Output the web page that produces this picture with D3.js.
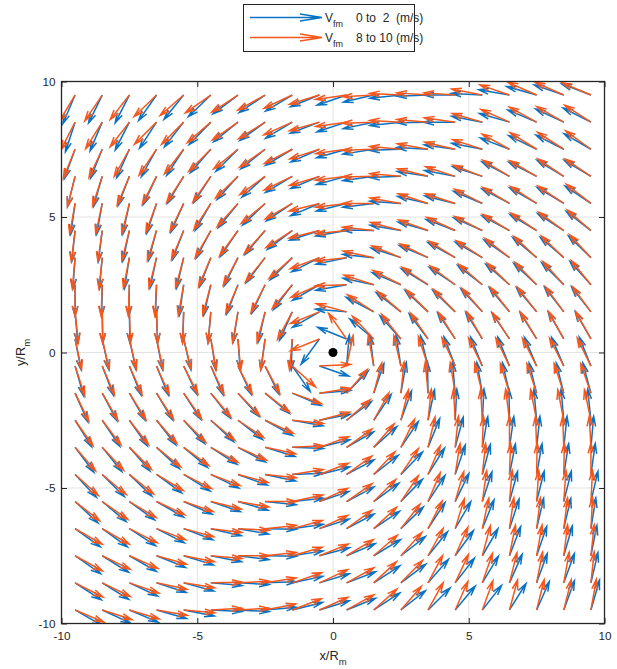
<!DOCTYPE html>
<html>
<head>
<meta charset="utf-8">
<script src="https://cdn.jsdelivr.net/npm/d3@7/dist/d3.min.js"></script>
<style>
  body { margin: 0; background: #fff; }
  svg { display: block; }
  text { font-family: "Liberation Sans", Arial, Helvetica, sans-serif; fill: #262626; }
</style>
</head>
<body>
<svg id="chart" width="617" height="669"></svg>
<script>
// Grid of arrow tails (data units, x/Rm and y/Rm)
const gridX = [-9.5,-8.5,-7.5,-6.5,-5.5,-4.5,-3.5,-2.5,-1.5,-0.5,0.5,1.5,2.5,3.5,4.5,5.5,6.5,7.5,8.5,9.5];
const gridY = [9.5,8.5,7.5,6.5,5.5,4.5,3.5,2.5,1.5,0.5,-0.5,-1.5,-2.5,-3.5,-4.5,-5.5,-6.5,-7.5,-8.5,-9.5];
const tickValues = [-10, -5, 0, 5, 10];
const seriesLabels = ["0 to  2  (m/s)", "8 to 10 (m/s)"];

// Flow direction of V_fm, degrees counter-clockwise from +x; one row per gridY, one column per gridX
// Wind speed 0-2 m/s
const dirLow = [
  [247,244,243,235,231,224,217,214,211,202,199,193,186,182,180,177,170,164,161,159],
  [252,247,243,237,232,226,219,216,211,201,198,192,186,181,180,169,164,157,155,153],
  [250,248,246,241,237,229,225,219,211,204,196,189,182,177,172,169,159,154,153,150],
  [256,254,249,245,239,237,228,222,211,203,195,188,182,171,169,162,152,153,149,149],
  [262,260,258,252,246,240,231,224,214,203,194,187,176,167,166,157,152,150,149,146],
  [264,263,258,255,249,242,236,230,217,198,190,179,170,164,159,156,152,149,147,142],
  [266,265,261,258,257,249,244,233,225,207,192,174,162,157,151,150,145,140,139,136],
  [270,269,269,268,262,257,249,245,233,210,190,168,157,149,146,142,139,137,135,132],
  [275,271,271,272,268,265,261,257,246,210,175,152,142,137,136,133,130,130,128,128],
  [281,282,282,281,283,279,274,262,268,234,158,140,132,127,124,122,124,122,120,120],
  [286,291,292,292,295,293,295,296,305,341, 85, 97, 99,104,111,112,112,113,113,112],
  [294,298,300,301,303,308,312,320,337,  5, 46, 71, 80, 91, 95,100,103,104,104,105],
  [302,304,305,308,312,317,322,331,350, 11, 37, 56, 70, 78, 87, 87, 91, 95, 95, 96],
  [307,309,311,317,320,327,332,343,358, 14, 30, 42, 56, 68, 75, 80, 82, 84, 84, 85],
  [313,315,316,324,328,334,340,348,  2, 14, 28, 38, 46, 58, 71, 75, 79, 80, 81, 82],
  [317,320,324,330,336,341,344,354,  6, 19, 28, 36, 46, 57, 64, 72, 75, 76, 76, 77],
  [324,324,327,333,339,347,350,359,  8, 18, 28, 34, 44, 57, 60, 68, 72, 77, 77, 81],
  [325,328,330,338,343,349,353,359,  9, 15, 23, 31, 38, 51, 54, 60, 69, 71, 74, 79],
  [327,328,335,342,345,355,357,  2, 12, 17, 21, 33, 37, 49, 52, 59, 66, 70, 70, 77],
  [330,335,337,344,349,357,357,  5, 14, 17, 22, 33, 38, 45, 50, 52, 58, 66, 70, 74]
];
// Wind speed 8-10 m/s
const dirHigh = [
  [239,236,232,224,221,215,213,209,205,197,188,183,177,176,176,169,161,156,156,157],
  [243,238,232,225,225,221,215,212,204,196,188,182,177,175,172,164,156,151,150,147],
  [248,245,241,236,232,225,219,215,207,198,188,182,175,170,167,162,151,148,147,144],
  [256,252,247,243,237,235,224,216,206,197,187,181,175,166,162,159,149,150,146,146],
  [260,258,256,250,244,237,228,220,210,194,187,180,170,162,162,153,149,147,146,142],
  [263,262,256,253,247,240,234,228,213,194,186,174,165,160,155,153,149,146,144,139],
  [265,264,259,256,255,247,242,231,222,201,186,168,158,154,148,147,142,137,136,133],
  [270,268,268,267,260,255,247,243,230,204,182,162,153,146,143,139,136,134,132,129],
  [276,271,272,272,268,265,260,255,242,202,165,147,139,135,134,131,128,128,126,126],
  [282,283,283,282,284,280,275,262,265,202,125,133,128,124,122,120,123,121,119,119],
  [288,293,294,294,297,295,297,298,318,  3, 78,100,103,108,115,116,116,117,117,116],
  [296,300,302,303,305,310,314,322,340,  9, 49, 75, 84, 95, 99,104,107,108,108,109],
  [305,307,308,311,315,320,326,335,354, 15, 41, 61, 76, 84, 93, 93, 97,101,101,102],
  [311,313,315,321,324,331,336,348,  3, 20, 36, 49, 64, 77, 84, 88, 90, 92, 92, 93],
  [318,320,321,329,333,339,345,354,  9, 21, 36, 47, 56, 67, 81, 84, 88, 89, 89, 90],
  [322,325,329,335,341,346,350,  0, 12, 25, 35, 45, 56, 67, 74, 82, 85, 86, 86, 87],
  [330,330,333,339,345,353,357,  6, 15, 25, 36, 43, 52, 63, 73, 78, 82, 83, 83, 87],
  [331,334,336,344,349,355,  0,  6, 16, 22, 31, 41, 48, 61, 66, 75, 79, 80, 83, 84],
  [333,334,341,348,351,  1,  3,  9, 19, 25, 29, 43, 46, 62, 65, 71, 76, 79, 80, 84],
  [337,342,343,350,355,  3,  3, 11, 21, 24, 29, 42, 49, 61, 66, 70, 75, 76, 76, 80]
];

const series = [
  { label: seriesLabels[0], dirs: dirLow,  color: "#0A72C2" },
  { label: seriesLabels[1], dirs: dirHigh, color: "#F5571C" }
];

const svg = d3.select("#chart");
const plot = { left: 61.5, right: 604.5, top: 81.5, bottom: 623.5 };
const x = d3.scaleLinear().domain([-10, 10]).range([plot.left, plot.right]);
const y = d3.scaleLinear().domain([-10, 10]).range([plot.bottom, plot.top]);

// grid lines
const grid = svg.append("g").attr("stroke", "#e3e3e3").attr("stroke-width", 1);
tickValues.filter(t => t > -10 && t < 10).forEach(t => {
  grid.append("line").attr("x1", x(t)).attr("x2", x(t)).attr("y1", plot.top).attr("y2", plot.bottom);
  grid.append("line").attr("y1", y(t)).attr("y2", y(t)).attr("x1", plot.left).attr("x2", plot.right);
});

svg.append("clipPath").attr("id", "plotClip")
  .append("rect").attr("x", plot.left).attr("y", plot.top)
  .attr("width", plot.right - plot.left).attr("height", plot.bottom - plot.top);

// quiver arrows: shaft plus two barbs
const arrowLen = 1.15;     // drawn length, data units
const headBack = 0.32, headSide = 0.09;
function arrowPath(x0, y0, deg) {
  const t = deg * Math.PI / 180;
  const px = x(x0), py = y(y0);
  const tx = x(x0 + arrowLen * Math.cos(t)), ty = y(y0 + arrowLen * Math.sin(t));
  const dx = tx - px, dy = ty - py;
  const b1x = tx - headBack * dx - headSide * dy, b1y = ty - headBack * dy + headSide * dx;
  const b2x = tx - headBack * dx + headSide * dy, b2y = ty - headBack * dy - headSide * dx;
  return `M${px},${py}L${tx},${ty}M${b1x},${b1y}L${tx},${ty}L${b2x},${b2y}`;
}

const arrowsG = svg.append("g").attr("clip-path", "url(#plotClip)");
series.forEach(s => {
  const cells = [];
  s.dirs.forEach((row, i) => row.forEach((d, j) => cells.push({ x: gridX[j], y: gridY[i], d })));
  arrowsG.append("g")
    .attr("fill", "none").attr("stroke", s.color).attr("stroke-width", 1.5)
    .attr("stroke-linejoin", "miter")
    .selectAll("path").data(cells).join("path")
    .attr("d", c => arrowPath(c.x, c.y, c.d));
});

// centre marker
svg.append("circle").attr("cx", x(0)).attr("cy", y(0)).attr("r", 4.5).attr("fill", "#000");

// axes (ticks inward, box on)
const fontSize = "11.7px";
function styleAxis(g, labels) {
  g.select(".domain").remove();
  g.selectAll(".tick line").attr("stroke", "#262626").attr("stroke-width", 1);
  if (labels) g.selectAll(".tick text").attr("font-size", fontSize).attr("fill", "#262626")
    .style("font-family", '"Liberation Sans", Arial, Helvetica, sans-serif');
  else g.selectAll(".tick text").remove();
}
svg.append("g").attr("transform", `translate(${plot.left},0)`)
  .call(d3.axisLeft(y).tickValues(tickValues).tickSize(-5.5).tickPadding(6).tickFormat(d3.format("d")))
  .call(g => styleAxis(g, true));
svg.append("g").attr("transform", `translate(0,${plot.bottom})`)
  .call(d3.axisBottom(x).tickValues(tickValues).tickSize(-5.5).tickPadding(8).tickFormat(d3.format("d")))
  .call(g => styleAxis(g, true));
svg.append("g").attr("transform", `translate(${plot.right},0)`)
  .call(d3.axisRight(y).tickValues(tickValues).tickSize(-5.5))
  .call(g => styleAxis(g, false));
svg.append("g").attr("transform", `translate(0,${plot.top})`)
  .call(d3.axisTop(x).tickValues(tickValues).tickSize(-5.5))
  .call(g => styleAxis(g, false));
svg.selectAll(".tick text").text(d => d < 0 ? "-" + Math.abs(d) : String(d));

svg.append("rect").attr("x", plot.left).attr("y", plot.top)
  .attr("width", plot.right - plot.left).attr("height", plot.bottom - plot.top)
  .attr("fill", "none").attr("stroke", "#262626").attr("stroke-width", 1.3);

// axis labels
const xl = svg.append("text").attr("x", x(0)).attr("y", 660).attr("text-anchor", "middle").attr("font-size", "12.8px");
xl.append("tspan").text("x/R");
xl.append("tspan").attr("dy", 5).attr("font-size", "9.5px").text("m");

const yl = svg.append("text").attr("transform", `translate(25,${y(0)}) rotate(-90)`)
  .attr("text-anchor", "middle").attr("font-size", "12.8px");
yl.append("tspan").text("y/R");
yl.append("tspan").attr("dy", 5).attr("font-size", "9.5px").text("m");

// legend
const lg = svg.append("g");
lg.append("rect").attr("x", 243.5).attr("y", 4.5).attr("width", 171).attr("height", 47)
  .attr("fill", "#fff").attr("stroke", "#262626").attr("stroke-width", 1);
series.forEach((s, k) => {
  const ly = 17.5 + k * 20;
  lg.append("path")
    .attr("d", `M250,${ly}L322,${ly}M300,${ly - 3.5}L322,${ly}L300,${ly + 3.5}`)
    .attr("fill", "none").attr("stroke", s.color).attr("stroke-width", 1.5);
  const t = lg.append("text").attr("x", 325).attr("y", ly + 4.2).attr("font-size", "12px");
  t.append("tspan").text("V");
  t.append("tspan").attr("dy", 5).attr("font-size", "9px").text("fm");
  lg.append("text").attr("x", 356).attr("y", ly + 4.2).attr("font-size", "12px")
    .style("white-space", "pre").text(s.label);
});
</script>
</body>
</html>
